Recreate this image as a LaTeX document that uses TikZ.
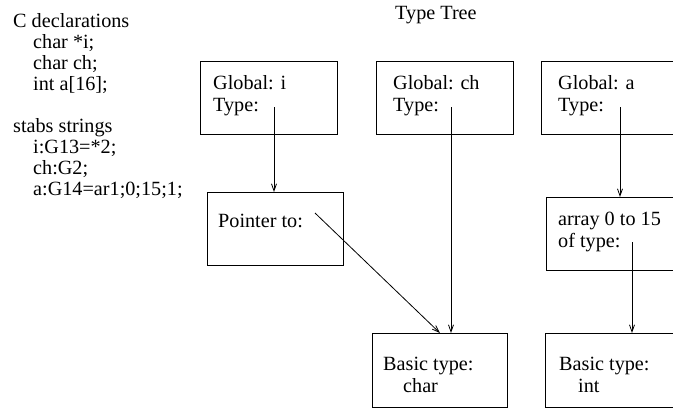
\documentclass[tikz,border=0pt]{standalone}
\usepackage{fontspec}
\setmainfont{Liberation Serif}
\usetikzlibrary{arrows.meta}
\begin{document}
\begin{tikzpicture}[x=1pt,y=-1pt,
  txt/.style={anchor=base west, inner sep=0pt, font=\fontsize{20.2}{21}\selectfont},
  box/.style={draw, line width=0.8pt, inner sep=0pt, anchor=north west},
  conn/.style={line width=0.8pt, -{Straight Barb[length=7pt,width=5pt,line width=0.8pt]}}]
\useasboundingbox (0,0) rectangle (673,408);
\clip (0,0) rectangle (673,408);
% left column
\node[txt] (cdecl) at (13,27) {C declarations};
\node[txt] (c1) at (33,48) {char *i;};
\node[txt] (c2) at (33,69) {char ch;};
\node[txt] (c3) at (33,90) {int a[16];};
\node[txt] (stabs) at (13,132) {stabs strings};
\node[txt] (s1) at (33,153) {i:G13=*2;};
\node[txt] (s2) at (33,174) {ch:G2;};
\node[txt] (s3) at (33,195) {a:G14=ar1;0;15;1;};
\node[txt] (title) at (395,19) {Type Tree};
% boxes
\node[box, minimum width=137pt, minimum height=73pt] (gi) at (200,61) {};
\node[box, minimum width=137pt, minimum height=73pt] (gch) at (376,61) {};
\node[box, minimum width=150pt, minimum height=73pt] (ga) at (541,61) {};
\node[box, minimum width=136pt, minimum height=73pt] (ptr) at (207,192) {};
\node[box, minimum width=150pt, minimum height=73pt] (arr) at (546,197) {};
\node[box, minimum width=135pt, minimum height=74pt] (bc) at (372,333) {};
\node[box, minimum width=150pt, minimum height=74pt] (bi) at (545,333) {};
% box texts
\node[txt] (gi1) at (213,89) {Global: i};
\node[txt] (gi2) at (213,111) {Type:};
\node[txt] (gch1) at (393,89) {Global: ch};
\node[txt] (gch2) at (393,111) {Type:};
\node[txt] (ga1) at (558,89) {Global: a};
\node[txt] (ga2) at (558,111) {Type:};
\node[txt] (ptr1) at (218,227) {Pointer to:};
\node[txt] (arr1) at (558,225) {array 0 to 15};
\node[txt] (arr2) at (558,247) {of type:};
\node[txt] (bc1) at (383,370) {Basic type:};
\node[txt] (bc2) at (403,392) {char};
\node[txt] (bi1) at (559,370) {Basic type:};
\node[txt] (bi2) at (578,392) {int};
% connector starts
\coordinate (ti) at (274,107);
\coordinate (tch) at (451,107);
\coordinate (ta) at (620,107);
\coordinate (tarr) at (632,242);
\coordinate (tp) at (315,213);
% connectors
\draw[conn] (ti) -- (ti |- ptr.north);
\draw[conn] (tch) -- (tch |- bc.north);
\draw[conn] (ta) -- (ta |- arr.north);
\draw[conn] (tarr) -- (tarr |- bi.north);
\draw[conn] (tp) -- (bc.north);
\end{tikzpicture}
\end{document}
